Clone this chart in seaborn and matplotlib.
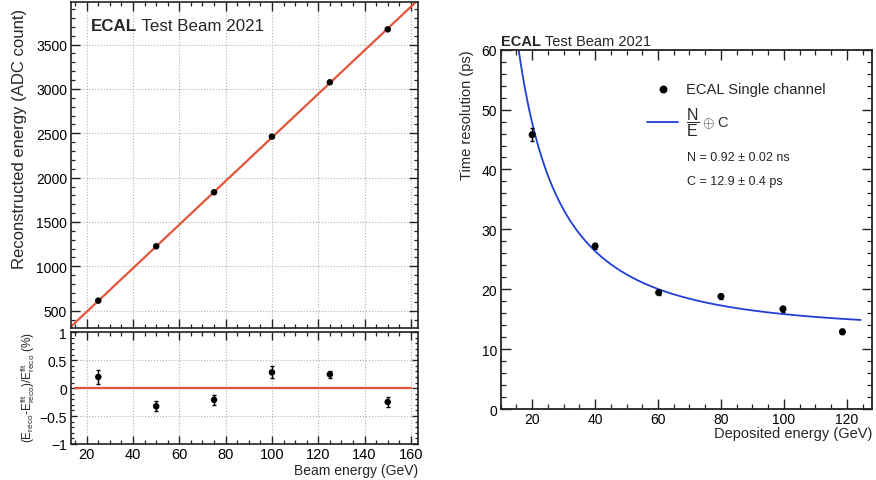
import numpy as np
import pandas as pd
import matplotlib
matplotlib.use("Agg")
import matplotlib.pyplot as plt
from matplotlib.ticker import MultipleLocator, FixedLocator, FuncFormatter
import seaborn as sns

# ---- linearity data ----
beam_energy = [25, 50, 75, 100, 125, 150]               # GeV
reco_energy = [613, 1226, 1835, 2462, 3075, 3672]       # ADC count
residual = [0.20, -0.325, -0.21, 0.283, 0.247, -0.247]  # %
residual_err = [0.12, 0.09, 0.085, 0.105, 0.06, 0.085]  # %
lin_slope = 24.56       # ADC / GeV
lin_intercept = -3.2    # ADC

# ---- timing resolution data ----
dep_energy = [20.0, 40.0, 60.2, 80.0, 99.7, 118.6]      # GeV
time_res = [45.8, 27.2, 19.45, 18.8, 16.7, 12.9]        # ps
time_res_err = [1.05, 0.5, 0.45, 0.45, 0.45, 0.4]       # ps
noise_term_ns = 0.92
const_term_ps = 12.9

sns.set_theme(style="ticks")
plt.rcParams["font.family"] = ["Liberation Sans", "DejaVu Sans"]
plt.rcParams["mathtext.fontset"] = "custom"
plt.rcParams["mathtext.rm"] = "Liberation Sans"
plt.rcParams["mathtext.it"] = "Liberation Sans"
plt.rcParams["mathtext.bf"] = "Liberation Sans:bold"
plt.rcParams["axes.unicode_minus"] = True

RED = "#e4553b"
BLUE = "#1f3fd6"
W, H = 876, 481

fig = plt.figure(figsize=(W / 100, H / 100), dpi=100)


def px_axes(left, right, top, bottom):
    return fig.add_axes([left / W, 1 - bottom / H, (right - left) / W, (bottom - top) / H])


ax_top = px_axes(70.5, 418.3, 3, 329)
ax_rat = px_axes(70.5, 418.3, 333.3, 445)
ax_res = px_axes(500.7, 872, 50.7, 410)


def root_frame(ax, major_len, minor_len, lw=1.2):
    for s in ax.spines.values():
        s.set_linewidth(lw)
        s.set_color("#222222")
    ax.tick_params(which="both", direction="in", top=True, right=True,
                   colors="#222222", labelcolor="black", labelsize=9.5, pad=2.5)
    ax.tick_params(which="major", length=major_len, width=1.0)
    ax.tick_params(which="minor", length=minor_len, width=0.9)


def fmt_num(v, _):
    s = f"{v:g}"
    return s.replace("-", "\u2212")


# ---------------- linearity (top) ----------------
lin_df = pd.DataFrame({"E": beam_energy, "reco": reco_energy})
xgrid = np.linspace(12, 164, 200)
fit_df = pd.DataFrame({"E": xgrid, "fit": lin_slope * xgrid + lin_intercept})
sns.lineplot(data=fit_df, x="E", y="fit", ax=ax_top, color=RED, lw=1.6, zorder=2)
sns.scatterplot(data=lin_df, x="E", y="reco", ax=ax_top, color="black", s=22,
                edgecolor="none", zorder=3)
ax_top.set_xlim(13, 163.2)
ax_top.set_ylim(305, 3980)
ax_top.xaxis.set_major_locator(MultipleLocator(20))
ax_top.xaxis.set_minor_locator(MultipleLocator(5))
ax_top.yaxis.set_major_locator(MultipleLocator(500))
ax_top.yaxis.set_minor_locator(MultipleLocator(100))
ax_top.grid(True, which="major", ls=":", lw=0.8, color="#b0b0b0")
root_frame(ax_top, 6.5, 3.2)
ax_top.tick_params(labelbottom=False, labelsize=10)
ax_top.set_xlabel("")
ax_top.set_ylabel("Reconstructed energy (ADC count)", fontsize=12)
ax_top.yaxis.set_label_coords(-0.125, 0.584)
t1 = ax_top.text(0.058, 0.915, "ECAL", transform=ax_top.transAxes,
                 fontsize=12.2, fontweight="bold", va="baseline", ha="left")
ax_top.annotate(" Test Beam 2021", xy=(1, 0), xycoords=t1, va="bottom",
                ha="left", fontsize=12.2)

# ---------------- residuals (bottom) ----------------
rat_df = pd.DataFrame({"E": beam_energy, "res": residual})
zero_df = pd.DataFrame({"E": [15, 160], "res": [0, 0]})
sns.lineplot(data=zero_df, x="E", y="res", ax=ax_rat, color=RED, lw=1.6, zorder=2)
ax_rat.errorbar(beam_energy, residual, yerr=residual_err, fmt="none",
                ecolor="black", elinewidth=1.0, capsize=1.5, capthick=1.0, zorder=3)
sns.scatterplot(data=rat_df, x="E", y="res", ax=ax_rat, color="black", s=22,
                edgecolor="none", zorder=4)
ax_rat.set_xlim(13, 163.2)
ax_rat.set_ylim(-1, 1)
ax_rat.xaxis.set_major_locator(MultipleLocator(20))
ax_rat.xaxis.set_minor_locator(MultipleLocator(5))
ax_rat.yaxis.set_major_locator(FixedLocator([-1, -0.5, 0, 0.5, 1]))
ax_rat.yaxis.set_minor_locator(MultipleLocator(0.1))
ax_rat.yaxis.set_major_formatter(FuncFormatter(fmt_num))
ax_rat.grid(True, which="major", ls=":", lw=0.8, color="#b0b0b0")
root_frame(ax_rat, 6.0, 3.0)
ax_rat.tick_params(labelsize=10.5)
ax_rat.tick_params(axis="y", which="major", length=4.5, labelsize=10)
ax_rat.tick_params(axis="y", which="minor", length=2.5)
ax_rat.set_xlabel("Beam energy (GeV)", fontsize=10, ha="right")
ax_rat.xaxis.set_label_coords(1.0, -0.17)
ax_rat.set_ylabel(r"(E$_{\rm reco}$-E$^{\rm fit}_{\rm reco}$)/E$^{\rm fit}_{\rm reco}$ (%)",
                  fontsize=8.5)
ax_rat.yaxis.set_label_coords(-0.096, 0.515)

# ---------------- timing resolution (right) ----------------
res_df = pd.DataFrame({"E": dep_energy, "sigma": time_res})
egrid = np.linspace(14, 124.4, 300)
curve_df = pd.DataFrame({
    "E": egrid,
    "sigma": np.sqrt((noise_term_ns * 1000 / egrid) ** 2 + const_term_ps ** 2),
})
sns.lineplot(data=curve_df, x="E", y="sigma", ax=ax_res, color=BLUE, lw=1.3, zorder=2)
ax_res.errorbar(dep_energy, time_res, yerr=time_res_err, fmt="none",
                ecolor="black", elinewidth=1.0, capsize=1.5, capthick=1.0, zorder=3)
sns.scatterplot(data=res_df, x="E", y="sigma", ax=ax_res, color="black", s=26,
                edgecolor="none", zorder=4)
ax_res.set_xlim(10, 128)
ax_res.set_ylim(0, 60)
ax_res.xaxis.set_major_locator(MultipleLocator(20))
ax_res.xaxis.set_minor_locator(MultipleLocator(5))
ax_res.yaxis.set_major_locator(MultipleLocator(10))
ax_res.yaxis.set_minor_locator(MultipleLocator(2))
root_frame(ax_res, 7.0, 3.5, lw=1.3)
ax_res.tick_params(labelsize=10)
ax_res.set_xlabel("Deposited energy (GeV)", fontsize=10.5, ha="right")
ax_res.xaxis.set_label_coords(1.0, -0.048)
ax_res.set_ylabel("Time resolution (ps)", fontsize=10.5)
ax_res.yaxis.set_label_coords(-0.072, 0.821)

t2 = ax_res.text(0.0, 1.013, "ECAL", transform=ax_res.transAxes,
                 fontsize=10.5, fontweight="bold", va="baseline", ha="left")
ax_res.annotate(" Test Beam 2021", xy=(1, 0), xycoords=t2, va="bottom",
                ha="left", fontsize=10.5)

# legend entries
ax_res.scatter([0.437], [0.891], s=22, color="black", transform=ax_res.transAxes,
               clip_on=False, zorder=5)
ax_res.text(0.4995, 0.891, "ECAL Single channel", transform=ax_res.transAxes,
            fontsize=10.6, va="center", ha="left")
ax_res.plot([0.394, 0.478], [0.799, 0.799], color=BLUE, lw=1.3,
            transform=ax_res.transAxes, clip_on=False)
frac = ax_res.text(0.4995, 0.799, r"$\dfrac{N}{E}$", transform=ax_res.transAxes,
                   fontsize=11.5, va="center", ha="left")
ax_res.annotate(r"$\oplus$ C", xy=(1, 0.5), xycoords=frac, xytext=(1.5, 0),
                textcoords="offset points", fontsize=10.5, va="center", ha="left")
ax_res.text(0.502, 0.701, f"N = {noise_term_ns:.2f} \u00b1 0.02 ns",
            transform=ax_res.transAxes, fontsize=9, va="center", ha="left")
ax_res.text(0.502, 0.635, f"C = {const_term_ps:.1f} \u00b1 0.4 ps",
            transform=ax_res.transAxes, fontsize=9, va="center", ha="left")

fig.savefig("out.png", dpi=100)
